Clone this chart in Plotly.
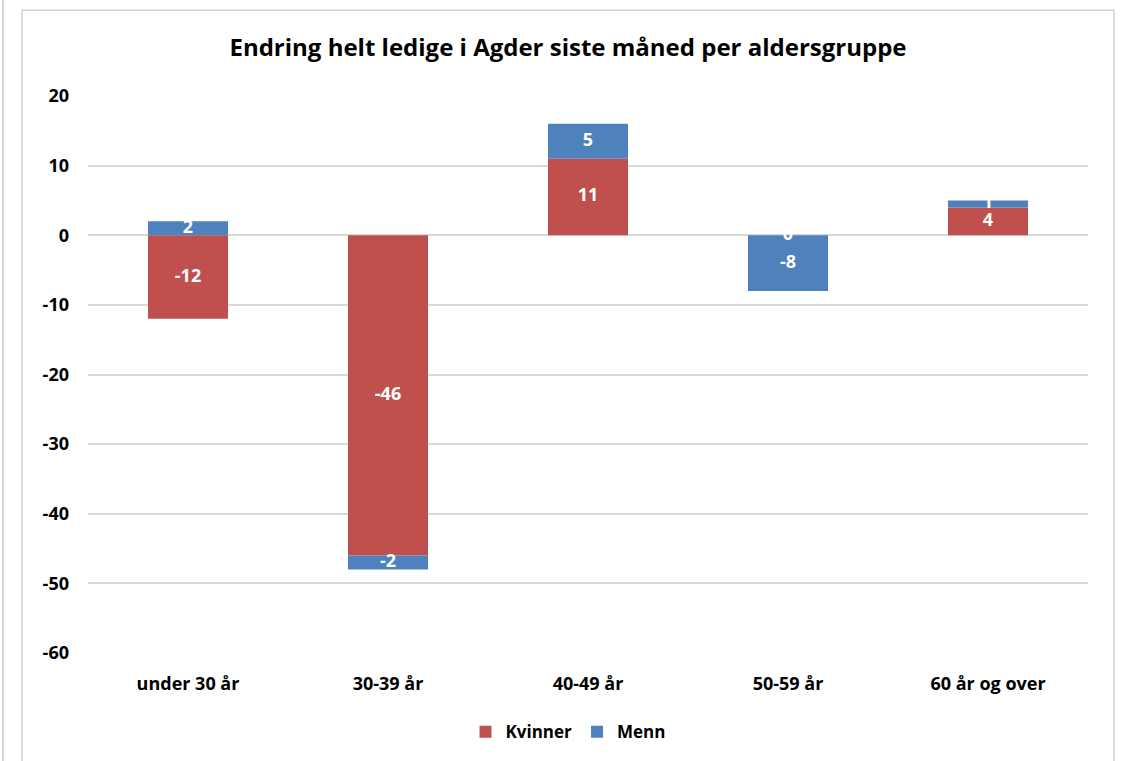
import plotly.graph_objects as go

categories = ["under 30 år", "30-39 år", "40-49 år", "50-59 år", "60 år og over"]
kvinner = [-12, -46, 11, 0, 4]
menn = [2, -2, 5, -8, 1]
y_ticks = [20, 10, 0, -10, -20, -30, -40, -50, -60]

RED = "#C0504D"
BLUE = "#4F81BD"
FONT = "Open Sans"

fig = go.Figure()
fig.add_trace(go.Bar(x=categories, y=kvinner, name="Kvinner", marker=dict(color=RED, line=dict(width=0)),
                     hoverinfo="x+y"))
fig.add_trace(go.Bar(x=categories, y=menn, name="Menn", marker=dict(color=BLUE, line=dict(width=0)),
                     hoverinfo="x+y"))

# label positions computed from relative stacking
lab_x, lab_y, lab_t = [], [], []
for c, k, m in zip(categories, kvinner, menn):
    pos, neg = 0, 0
    for v in (k, m):
        if v >= 0:
            mid = pos + v / 2
            pos += v
        else:
            mid = neg + v / 2
            neg += v
        lab_x.append(c)
        lab_y.append(mid)
        lab_t.append(str(v))
fig.add_trace(go.Scatter(x=lab_x, y=lab_y, text=lab_t, mode="text", showlegend=False,
                         textfont=dict(family=FONT, size=18, color="white", weight="bold"),
                         hoverinfo="skip"))

fig.update_layout(
    barmode="relative",
    bargap=0.6,
    width=1121, height=761,
    margin=dict(l=88, r=33, t=96, b=107),
    paper_bgcolor="white", plot_bgcolor="white",
    font=dict(family=FONT, color="#000000"),
    title=dict(text="<b>Endring helt ledige i Agder siste måned per aldersgruppe</b>",
               x=0.48, xref="paper", xanchor="center", y=1 - 48 / 761, yanchor="middle",
               font=dict(family=FONT, size=24, color="#000000")),
    legend=dict(orientation="h", x=0.48, xanchor="center", y=-0.14, yanchor="middle",
                font=dict(family=FONT, size=17, color="#000000", weight="bold"),
                traceorder="normal", itemwidth=30),
    showlegend=True,
)
fig.update_xaxes(showgrid=False, showline=False, zeroline=False, ticks="",
                 tickfont=dict(family=FONT, size=18, weight="bold"), ticklabelstandoff=18,
                 categoryorder="array", categoryarray=categories)
fig.update_yaxes(range=[-60, 20], tickvals=y_ticks, ticktext=[str(v) for v in y_ticks],
                 showgrid=True, gridcolor="#D9D9D9", gridwidth=1.5,
                 zeroline=True, zerolinecolor="#D9D9D9", zerolinewidth=1.5, showline=False, ticks="",
                 tickfont=dict(family=FONT, size=18, weight="bold"), ticklabelstandoff=18)

# chart frame
fig.add_shape(type="rect", xref="paper", yref="paper", x0=-0.066, x1=1.026, y0=-0.25, y1=1.154,
              line=dict(color="#D0D0D0", width=1.5), fillcolor="rgba(0,0,0,0)", layer="below")
fig.add_shape(type="line", xref="paper", yref="paper", x0=-0.085, x1=-0.085, y0=-0.25, y1=1.25,
              line=dict(color="#C8C8C8", width=1.5))

fig.write_html("out.html", config={"displayModeBar": False},
               post_script="document.body.style.margin='0';document.body.style.overflow='hidden';")
